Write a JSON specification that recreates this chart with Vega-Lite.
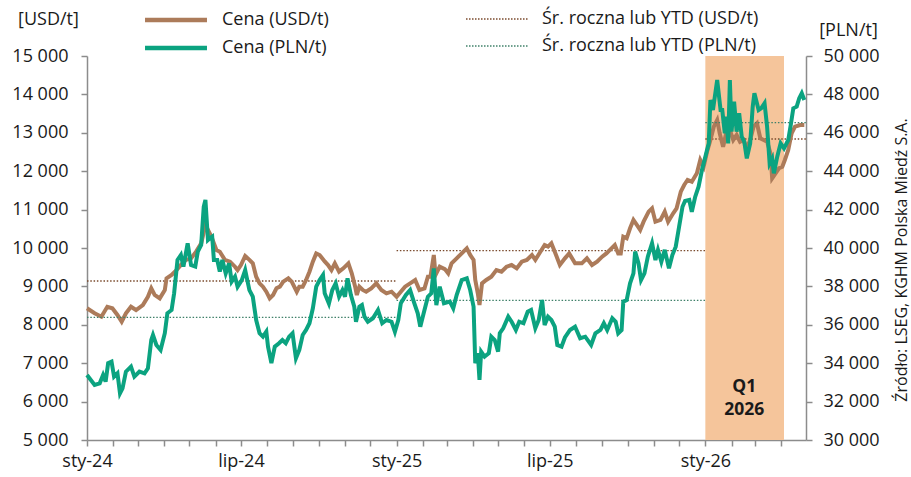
{
  "$schema": "https://vega.github.io/schema/vega-lite/v6.json",
  "width": 719,
  "height": 384,
  "autosize": {"type": "none"},
  "padding": {"left": 87, "top": 56, "right": 105, "bottom": 37},
  "background": "white",
  "config": {
    "view": {"stroke": null},
    "font": "Open Sans",
    "axis": {"labelFont": "Open Sans", "titleFont": "Open Sans", "labelColor": "#1a1a1a", "titleColor": "#1a1a1a", "labelFontSize": 18, "titleFontSize": 18, "titleFontWeight": "normal", "grid": false, "domainColor": "#8c8c8c", "domainWidth": 1.5, "tickColor": "#8c8c8c", "tickWidth": 1.5, "tickSize": 6},
    "legend": {"title": null, "orient": "none", "symbolType": "M-4,0H4", "symbolSize": 240, "labelFont": "Open Sans", "labelFontSize": 18, "labelColor": "#1a1a1a", "labelLimit": 400, "labelOffset": 36, "rowPadding": 9, "padding": 0, "direction": "vertical"}
  },
  "title": {"text": "Źródło: LSEG, KGHM Polska Miedź S.A.", "orient": "right", "angle": 270, "anchor": "middle", "baseline": "middle", "fontSize": 16, "fontWeight": "normal", "font": "Open Sans", "color": "#1a1a1a", "offset": 7, "dx": -12},
  "datasets": {
    "q": [{"d": "2026-01-01", "d2": "2026-04-04"}],
    "usdAvg": [
      {"yr": "2024", "d": "2024-01-01", "v": 9141}, {"yr": "2024", "d": "2025-01-01", "v": 9141},
      {"yr": "2025", "d": "2025-01-01", "v": 9930}, {"yr": "2025", "d": "2026-01-01", "v": 9930},
      {"yr": "2026", "d": "2026-01-01", "v": 12839}, {"yr": "2026", "d": "2026-04-30", "v": 12839}
    ],
    "plnAvg": [
      {"yr": "2024", "d": "2024-01-01", "v": 36391}, {"yr": "2024", "d": "2025-01-01", "v": 36391},
      {"yr": "2025", "d": "2025-01-01", "v": 37277}, {"yr": "2025", "d": "2026-01-01", "v": 37277},
      {"yr": "2026", "d": "2026-01-01", "v": 46527}, {"yr": "2026", "d": "2026-04-30", "v": 46527}
    ],
    "usd": [
      {"d":"2024-01-01","v":8430},{"d":"2024-01-10","v":8300},{"d":"2024-01-18","v":8210},{"d":"2024-01-25","v":8470},{"d":"2024-01-31","v":8430},
      {"d":"2024-02-06","v":8255},{"d":"2024-02-11","v":8080},{"d":"2024-02-16","v":8300},{"d":"2024-02-22","v":8470},{"d":"2024-02-28","v":8385},
      {"d":"2024-03-07","v":8515},{"d":"2024-03-13","v":8730},{"d":"2024-03-17","v":8950},{"d":"2024-03-21","v":8780},{"d":"2024-03-27","v":8690},
      {"d":"2024-04-02","v":8905},{"d":"2024-04-04","v":9210},{"d":"2024-04-10","v":9300},{"d":"2024-04-16","v":9430},{"d":"2024-04-21","v":9560},
      {"d":"2024-04-27","v":9690},{"d":"2024-05-03","v":9730},{"d":"2024-05-09","v":9905},{"d":"2024-05-15","v":10120},{"d":"2024-05-20","v":10600},
      {"d":"2024-05-27","v":10295},{"d":"2024-06-02","v":9948},{"d":"2024-06-06","v":9904},{"d":"2024-06-12","v":9690},{"d":"2024-06-18","v":9644},
      {"d":"2024-06-24","v":9513},{"d":"2024-06-27","v":9427},{"d":"2024-07-01","v":9557},{"d":"2024-07-06","v":9792},{"d":"2024-07-11","v":9690},
      {"d":"2024-07-15","v":9600},{"d":"2024-07-19","v":9253},{"d":"2024-07-23","v":9080},{"d":"2024-07-27","v":8993},{"d":"2024-07-31","v":8862},
      {"d":"2024-08-04","v":8690},{"d":"2024-08-08","v":8776},{"d":"2024-08-12","v":8950},{"d":"2024-08-16","v":8993},{"d":"2024-08-20","v":9123},
      {"d":"2024-08-26","v":9210},{"d":"2024-08-30","v":9123},{"d":"2024-09-05","v":8862},{"d":"2024-09-08","v":8993},{"d":"2024-09-12","v":8993},
      {"d":"2024-09-16","v":9167},{"d":"2024-09-20","v":9383},{"d":"2024-09-24","v":9644},{"d":"2024-09-28","v":9860},{"d":"2024-10-02","v":9818},
      {"d":"2024-10-08","v":9650},{"d":"2024-10-12","v":9557},{"d":"2024-10-16","v":9427},{"d":"2024-10-20","v":9600},{"d":"2024-10-25","v":9383},
      {"d":"2024-10-30","v":9470},{"d":"2024-11-05","v":9600},{"d":"2024-11-09","v":9340},{"d":"2024-11-13","v":8993},{"d":"2024-11-15","v":8776},
      {"d":"2024-11-18","v":8993},{"d":"2024-11-22","v":8907},{"d":"2024-11-26","v":8862},{"d":"2024-12-02","v":8950},{"d":"2024-12-08","v":9080},
      {"d":"2024-12-14","v":8907},{"d":"2024-12-20","v":8820},{"d":"2024-12-26","v":8862},{"d":"2025-01-01","v":8732},{"d":"2025-01-06","v":8862},
      {"d":"2025-01-11","v":8993},{"d":"2025-01-17","v":9080},{"d":"2025-01-23","v":9167},{"d":"2025-01-28","v":8907},{"d":"2025-02-03","v":8950},
      {"d":"2025-02-07","v":9253},{"d":"2025-02-10","v":9253},{"d":"2025-02-14","v":9818},{"d":"2025-02-16","v":9297},{"d":"2025-02-21","v":9513},
      {"d":"2025-02-27","v":9450},{"d":"2025-03-03","v":9340},{"d":"2025-03-07","v":9600},{"d":"2025-03-13","v":9730},{"d":"2025-03-19","v":9860},
      {"d":"2025-03-25","v":9990},{"d":"2025-03-29","v":9818},{"d":"2025-04-02","v":9690},{"d":"2025-04-04","v":9167},{"d":"2025-04-07","v":8820},
      {"d":"2025-04-09","v":8516},{"d":"2025-04-12","v":9080},{"d":"2025-04-17","v":9167},{"d":"2025-04-23","v":9253},{"d":"2025-04-29","v":9427},
      {"d":"2025-05-05","v":9383},{"d":"2025-05-11","v":9513},{"d":"2025-05-17","v":9557},{"d":"2025-05-23","v":9470},{"d":"2025-05-29","v":9644},
      {"d":"2025-06-04","v":9690},{"d":"2025-06-10","v":9818},{"d":"2025-06-14","v":9690},{"d":"2025-06-20","v":9904},{"d":"2025-06-25","v":10078},
      {"d":"2025-06-29","v":10035},{"d":"2025-07-03","v":10122},{"d":"2025-07-07","v":9904},{"d":"2025-07-13","v":9557},{"d":"2025-07-19","v":9730},
      {"d":"2025-07-24","v":9860},{"d":"2025-07-31","v":9600},{"d":"2025-08-08","v":9600},{"d":"2025-08-14","v":9730},{"d":"2025-08-20","v":9557},
      {"d":"2025-08-26","v":9644},{"d":"2025-09-01","v":9774},{"d":"2025-09-06","v":9860},{"d":"2025-09-12","v":9990},{"d":"2025-09-16","v":10078},
      {"d":"2025-09-20","v":9860},{"d":"2025-09-23","v":9860},{"d":"2025-09-26","v":10295},{"d":"2025-09-30","v":10252},{"d":"2025-10-04","v":10513},
      {"d":"2025-10-08","v":10730},{"d":"2025-10-12","v":10600},{"d":"2025-10-16","v":10470},{"d":"2025-10-20","v":10685},{"d":"2025-10-26","v":10946},
      {"d":"2025-10-30","v":11033},{"d":"2025-11-03","v":10685},{"d":"2025-11-09","v":10730},{"d":"2025-11-14","v":10946},{"d":"2025-11-18","v":10685},
      {"d":"2025-11-24","v":10904},{"d":"2025-11-28","v":11033},{"d":"2025-12-03","v":11467},{"d":"2025-12-07","v":11641},{"d":"2025-12-11","v":11771},
      {"d":"2025-12-16","v":11727},{"d":"2025-12-22","v":11945},{"d":"2025-12-26","v":12292},{"d":"2025-12-30","v":12118},{"d":"2026-01-03","v":12508},
      {"d":"2026-01-07","v":12813},{"d":"2026-01-11","v":13159},{"d":"2026-01-15","v":13333},{"d":"2026-01-18","v":12987},{"d":"2026-01-22","v":12638},
      {"d":"2026-01-26","v":13029},{"d":"2026-01-30","v":13073},{"d":"2026-02-03","v":12813},{"d":"2026-02-07","v":12943},{"d":"2026-02-11","v":12768},
      {"d":"2026-02-15","v":12813},{"d":"2026-02-19","v":12596},{"d":"2026-02-23","v":12813},{"d":"2026-02-27","v":13159},{"d":"2026-03-03","v":13247},
      {"d":"2026-03-07","v":12857},{"d":"2026-03-11","v":12813},{"d":"2026-03-15","v":12768},{"d":"2026-03-19","v":12466},{"d":"2026-03-21","v":11815},
      {"d":"2026-03-25","v":11945},{"d":"2026-03-29","v":12076},{"d":"2026-04-02","v":12118},{"d":"2026-04-05","v":12292},{"d":"2026-04-09","v":12552},
      {"d":"2026-04-13","v":12987},{"d":"2026-04-17","v":13159},{"d":"2026-04-23","v":13203},{"d":"2026-04-28","v":13203}
    ],
    "pln": [
      {"d":"2024-01-01","v":33386},{"d":"2024-01-10","v":32866},{"d":"2024-01-16","v":32954},{"d":"2024-01-20","v":33386},{"d":"2024-01-23","v":33040},
      {"d":"2024-01-26","v":34000},{"d":"2024-01-30","v":34080},{"d":"2024-02-02","v":33300},{"d":"2024-02-06","v":33475},{"d":"2024-02-09","v":32430},
      {"d":"2024-02-12","v":32690},{"d":"2024-02-16","v":33560},{"d":"2024-02-22","v":33820},{"d":"2024-02-26","v":33300},{"d":"2024-03-03","v":33560},
      {"d":"2024-03-09","v":33475},{"d":"2024-03-13","v":33735},{"d":"2024-03-17","v":35210},{"d":"2024-03-19","v":35470},{"d":"2024-03-23","v":34950},
      {"d":"2024-03-28","v":34690},{"d":"2024-04-02","v":35560},{"d":"2024-04-05","v":36600},{"d":"2024-04-10","v":36770},{"d":"2024-04-13","v":37640},
      {"d":"2024-04-17","v":39375},{"d":"2024-04-21","v":39635},{"d":"2024-04-24","v":39030},{"d":"2024-04-29","v":40245},{"d":"2024-05-03","v":39115},
      {"d":"2024-05-08","v":39030},{"d":"2024-05-11","v":39810},{"d":"2024-05-15","v":40160},{"d":"2024-05-18","v":42150},{"d":"2024-05-20","v":42500},
      {"d":"2024-05-23","v":40420},{"d":"2024-05-25","v":40500},{"d":"2024-05-28","v":40590},{"d":"2024-05-30","v":39375},{"d":"2024-06-03","v":39375},
      {"d":"2024-06-06","v":38770},{"d":"2024-06-09","v":39375},{"d":"2024-06-13","v":38680},{"d":"2024-06-17","v":39200},{"d":"2024-06-20","v":38250},
      {"d":"2024-06-24","v":38510},{"d":"2024-06-27","v":37985},{"d":"2024-07-02","v":38330},{"d":"2024-07-06","v":38855},{"d":"2024-07-11","v":37810},
      {"d":"2024-07-15","v":37465},{"d":"2024-07-19","v":36250},{"d":"2024-07-23","v":35560},{"d":"2024-07-27","v":35380},{"d":"2024-07-31","v":35640},
      {"d":"2024-08-02","v":34860},{"d":"2024-08-06","v":34000},{"d":"2024-08-10","v":34860},{"d":"2024-08-15","v":35040},{"d":"2024-08-19","v":35210},
      {"d":"2024-08-23","v":35040},{"d":"2024-08-27","v":35380},{"d":"2024-08-31","v":35560},{"d":"2024-09-04","v":34255},{"d":"2024-09-08","v":34690},
      {"d":"2024-09-12","v":35470},{"d":"2024-09-16","v":35730},{"d":"2024-09-20","v":36080},{"d":"2024-09-24","v":36860},{"d":"2024-09-28","v":37985},
      {"d":"2024-10-02","v":38330},{"d":"2024-10-06","v":38590},{"d":"2024-10-08","v":37640},{"d":"2024-10-13","v":37100},{"d":"2024-10-17","v":37810},
      {"d":"2024-10-21","v":38160},{"d":"2024-10-25","v":37465},{"d":"2024-10-29","v":37810},{"d":"2024-11-01","v":37465},{"d":"2024-11-04","v":38420},
      {"d":"2024-11-08","v":37550},{"d":"2024-11-12","v":36945},{"d":"2024-11-14","v":36160},{"d":"2024-11-18","v":36945},{"d":"2024-11-21","v":37030},
      {"d":"2024-11-24","v":36420},{"d":"2024-11-28","v":36160},{"d":"2024-12-04","v":36340},{"d":"2024-12-10","v":36770},{"d":"2024-12-15","v":36080},
      {"d":"2024-12-20","v":36250},{"d":"2024-12-26","v":36160},{"d":"2024-12-30","v":35640},{"d":"2025-01-03","v":36250},{"d":"2025-01-06","v":37120},
      {"d":"2025-01-12","v":37550},{"d":"2025-01-17","v":37810},{"d":"2025-01-22","v":37120},{"d":"2025-01-26","v":36600},{"d":"2025-01-29","v":35900},
      {"d":"2025-02-02","v":36600},{"d":"2025-02-07","v":37465},{"d":"2025-02-11","v":37640},{"d":"2025-02-14","v":38940},{"d":"2025-02-17","v":37030},
      {"d":"2025-02-21","v":37985},{"d":"2025-02-26","v":37120},{"d":"2025-03-05","v":37205},{"d":"2025-03-09","v":36860},{"d":"2025-03-13","v":37550},
      {"d":"2025-03-19","v":38330},{"d":"2025-03-25","v":38420},{"d":"2025-03-29","v":37810},{"d":"2025-04-02","v":36945},{"d":"2025-04-04","v":34000},
      {"d":"2025-04-07","v":34520},{"d":"2025-04-09","v":33130},{"d":"2025-04-11","v":34600},{"d":"2025-04-15","v":34340},{"d":"2025-04-20","v":34520},
      {"d":"2025-04-23","v":35380},{"d":"2025-04-27","v":35210},{"d":"2025-05-01","v":34600},{"d":"2025-05-03","v":35560},{"d":"2025-05-07","v":35820},
      {"d":"2025-05-13","v":36420},{"d":"2025-05-17","v":36160},{"d":"2025-05-22","v":35730},{"d":"2025-05-26","v":36160},{"d":"2025-05-31","v":36080},
      {"d":"2025-06-05","v":36680},{"d":"2025-06-09","v":36770},{"d":"2025-06-14","v":35820},{"d":"2025-06-18","v":36250},{"d":"2025-06-22","v":37290},
      {"d":"2025-06-25","v":35990},{"d":"2025-06-29","v":36420},{"d":"2025-07-03","v":36250},{"d":"2025-07-07","v":35900},{"d":"2025-07-10","v":34950},
      {"d":"2025-07-15","v":34860},{"d":"2025-07-19","v":35340},{"d":"2025-07-25","v":35730},{"d":"2025-07-31","v":35900},{"d":"2025-08-06","v":35300},
      {"d":"2025-08-12","v":35380},{"d":"2025-08-19","v":34950},{"d":"2025-08-24","v":35560},{"d":"2025-08-30","v":35730},{"d":"2025-09-03","v":36080},
      {"d":"2025-09-07","v":35730},{"d":"2025-09-13","v":36340},{"d":"2025-09-17","v":36160},{"d":"2025-09-20","v":35560},{"d":"2025-09-24","v":35730},
      {"d":"2025-09-26","v":37205},{"d":"2025-09-30","v":37290},{"d":"2025-10-04","v":38160},{"d":"2025-10-08","v":38680},{"d":"2025-10-10","v":39810},
      {"d":"2025-10-14","v":39200},{"d":"2025-10-17","v":38330},{"d":"2025-10-21","v":38680},{"d":"2025-10-25","v":39550},{"d":"2025-10-30","v":40245},
      {"d":"2025-11-03","v":39375},{"d":"2025-11-06","v":39900},{"d":"2025-11-10","v":39285},{"d":"2025-11-14","v":39900},{"d":"2025-11-19","v":38940},
      {"d":"2025-11-23","v":39635},{"d":"2025-11-27","v":40070},{"d":"2025-12-01","v":41110},{"d":"2025-12-05","v":42150},{"d":"2025-12-08","v":42450},
      {"d":"2025-12-13","v":42500},{"d":"2025-12-16","v":41890},{"d":"2025-12-20","v":42670},{"d":"2025-12-24","v":43190},{"d":"2025-12-28","v":44060},
      {"d":"2026-01-01","v":44755},{"d":"2026-01-05","v":45450},{"d":"2026-01-07","v":47710},{"d":"2026-01-10","v":47190},{"d":"2026-01-15","v":48750},
      {"d":"2026-01-19","v":47190},{"d":"2026-01-21","v":47190},{"d":"2026-01-24","v":45975},{"d":"2026-01-26","v":46840},{"d":"2026-01-28","v":45450},
      {"d":"2026-01-30","v":48750},{"d":"2026-02-01","v":46060},{"d":"2026-02-04","v":47620},{"d":"2026-02-07","v":46060},{"d":"2026-02-10","v":47015},
      {"d":"2026-02-13","v":45800},{"d":"2026-02-16","v":45540},{"d":"2026-02-19","v":44670},{"d":"2026-02-23","v":45450},{"d":"2026-02-26","v":47360},
      {"d":"2026-02-28","v":48060},{"d":"2026-03-03","v":47540},{"d":"2026-03-05","v":47190},{"d":"2026-03-08","v":47275},{"d":"2026-03-12","v":47540},
      {"d":"2026-03-15","v":46320},{"d":"2026-03-18","v":44410},{"d":"2026-03-21","v":44670},{"d":"2026-03-23","v":43890},{"d":"2026-03-27","v":44755},
      {"d":"2026-03-31","v":45450},{"d":"2026-04-04","v":45190},{"d":"2026-04-09","v":45625},{"d":"2026-04-12","v":46410},{"d":"2026-04-15","v":47275},
      {"d":"2026-04-19","v":47360},{"d":"2026-04-22","v":47800},{"d":"2026-04-25","v":48060},{"d":"2026-04-28","v":47710}
    ]
  },
  "encoding": {
    "x": {
      "field": "d", "type": "temporal",
      "scale": {"type": "utc", "domain": [{"year": 2024, "month": 1, "date": 1, "utc": true}, {"year": 2026, "month": 4, "date": 30, "utc": true}]},
      "axis": {
        "orient": "bottom", "title": null, "tickCount": {"interval": "month", "step": 1},
        "labelExpr": "utcmonth(datum.value) == 0 ? 'sty-' + utcFormat(datum.value, '%y') : (utcmonth(datum.value) == 6 ? 'lip-' + utcFormat(datum.value, '%y') : '')",
        "labelFlush": false, "labelOverlap": false, "labelPadding": 6
      }
    }
  },
  "layer": [
    {
      "data": {"name": "q"},
      "mark": {"type": "rect", "color": "#F5C59B", "opacity": 1},
      "encoding": {"x2": {"field": "d2"}}
    },
    {
      "encoding": {
        "y": {
          "field": "v", "type": "quantitative",
          "scale": {"domain": [5000, 15000]},
          "axis": {
            "orient": "left", "values": [5000, 6000, 7000, 8000, 9000, 10000, 11000, 12000, 13000, 14000, 15000],
            "labelExpr": "replace(format(datum.value, ','), ',', ' ')",
            "title": "[USD/t]", "titleAngle": 0, "titleAlign": "center", "titleBaseline": "middle", "titleX": -39, "titleY": -37,
            "labelPadding": 13
          }
        }
      },
      "layer": [
        {
          "data": {"name": "usdAvg"},
          "mark": {"type": "line", "strokeWidth": 1.3, "strokeDash": [1.5, 1.8]},
          "encoding": {
            "detail": {"field": "yr"},
            "color": {
              "datum": "Śr. roczna lub YTD (USD/t)",
              "scale": {"domain": ["Śr. roczna lub YTD (USD/t)", "Śr. roczna lub YTD (PLN/t)"], "range": ["#7A4A2C", "#3F8069"]},
              "legend": {"legendX": 401, "legendY": -46, "symbolStrokeWidth": 1.3, "symbolDash": [1.5, 1.5]}
            }
          }
        },
        {
          "data": {"name": "usd"},
          "mark": {"type": "line", "strokeWidth": 4},
          "encoding": {
            "stroke": {
              "datum": "Cena (USD/t)",
              "scale": {"domain": ["Cena (USD/t)", "Cena (PLN/t)"], "range": ["#AC7B5A", "#0BA380"]},
              "legend": {"legendX": 79, "legendY": -46, "symbolStrokeWidth": 4.5}
            }
          }
        }
      ]
    },
    {
      "encoding": {
        "y": {
          "field": "v", "type": "quantitative",
          "scale": {"domain": [30000, 50000]},
          "axis": {
            "orient": "right", "values": [30000, 32000, 34000, 36000, 38000, 40000, 42000, 44000, 46000, 48000, 50000],
            "labelExpr": "replace(format(datum.value, ','), ',', ' ')",
            "title": "[PLN/t]", "titleAngle": 0, "titleAlign": "center", "titleBaseline": "middle", "titleX": 42, "titleY": -26,
            "labelPadding": 11
          }
        }
      },
      "layer": [
        {
          "data": {"name": "plnAvg"},
          "mark": {"type": "line", "strokeWidth": 1.3, "strokeDash": [1.5, 1.8]},
          "encoding": {"detail": {"field": "yr"}, "color": {"datum": "Śr. roczna lub YTD (PLN/t)"}}
        },
        {
          "data": {"name": "pln"},
          "mark": {"type": "line", "strokeWidth": 4},
          "encoding": {"stroke": {"datum": "Cena (PLN/t)"}}
        }
      ]
    },
    {
      "data": {"name": "q"},
      "mark": {"type": "text", "text": ["Q1", "2026"], "font": "Open Sans", "fontWeight": "bold", "fontSize": 17.5, "lineHeight": 23, "baseline": "middle", "align": "center", "color": "#1a1a1a"},
      "encoding": {
        "x": {"datum": {"year": 2026, "month": 2, "date": 16, "utc": true}, "type": "temporal"},
        "y": {"datum": 6381, "type": "quantitative", "scale": {"domain": [5000, 15000]}, "axis": null}
      }
    }
  ],
  "resolve": {"scale": {"y": "independent"}, "axis": {"y": "independent"}}
}
